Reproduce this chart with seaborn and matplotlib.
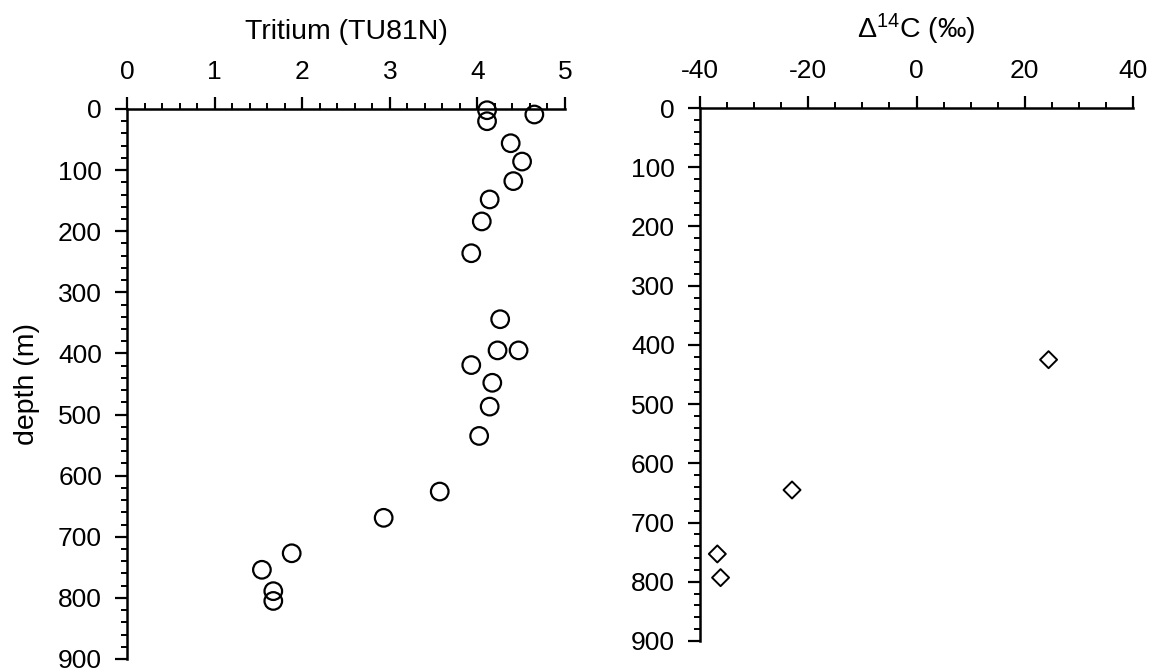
import matplotlib
matplotlib.use("Agg")
import matplotlib.pyplot as plt
import seaborn as sns
import pandas as pd
from matplotlib.ticker import MultipleLocator

# ---- data ----
tritium = [4.11, 4.11, 4.65, 4.38, 4.51, 4.41, 4.14, 4.05, 3.93, 4.26, 4.23, 4.47,
           3.93, 4.17, 4.14, 4.02, 3.57, 2.93, 1.88, 1.54, 1.67, 1.67]
tritium_depth = [2, 20, 9, 56, 86, 118, 148, 184, 236, 344, 395, 395,
                 419, 448, 487, 535, 626, 669, 727, 754, 789, 805]
c14 = [24.4, -23.0, -36.8, -36.2]
c14_depth = [425, 645, 753, 793]

tritium_ticks = [0, 1, 2, 3, 4, 5]
c14_ticks = [-40, -20, 0, 20, 40]
depth_ticks = [0, 100, 200, 300, 400, 500, 600, 700, 800, 900]

sns.set_theme(style="white")
plt.rcParams['font.family'] = ['Liberation Sans', 'DejaVu Sans']
plt.rcParams['mathtext.fontset'] = 'custom'
plt.rcParams['mathtext.rm'] = 'Liberation Sans'
plt.rcParams['mathtext.it'] = 'Liberation Sans:italic'
plt.rcParams['mathtext.default'] = 'regular'
plt.rcParams['axes.unicode_minus'] = False

FS = 19      # tick labels
LFS = 20.5   # axis labels
fig = plt.figure(figsize=(11.51, 6.72), dpi=100)
W, H = 1151, 672
def box(x0, x1, y0, y1):
    return [x0 / W, 1 - y1 / H, (x1 - x0) / W, (y1 - y0) / H]

ax1 = fig.add_axes(box(127, 565, 109, 659))
ax2 = fig.add_axes(box(700, 1133, 108, 641))

df1 = pd.DataFrame({"tritium": tritium, "depth": tritium_depth})
df2 = pd.DataFrame({"c14": c14, "depth": c14_depth})

sns.scatterplot(data=df1, x="tritium", y="depth", ax=ax1, marker="o", s=160,
                facecolor="none", edgecolor="black", linewidth=1.6, clip_on=False, zorder=3)
sns.scatterplot(data=df2, x="c14", y="depth", ax=ax2, marker="D", s=75,
                facecolor="none", edgecolor="black", linewidth=1.4, clip_on=False, zorder=3)

def style(ax, xlim, xticks, xminor, xlabel):
    ax.set_xlim(*xlim)
    ax.set_ylim(900, 0)
    ax.set_xticks(xticks)
    ax.set_yticks(depth_ticks)
    ax.xaxis.set_minor_locator(MultipleLocator(xminor))
    ax.yaxis.set_minor_locator(MultipleLocator(20))
    ax.xaxis.tick_top()
    ax.xaxis.set_label_position("top")
    for s in ["right", "bottom"]:
        ax.spines[s].set_visible(False)
    for s in ["top", "left"]:
        ax.spines[s].set_linewidth(1.8)
        ax.spines[s].set_color("black")
    ax.tick_params(which="major", direction="out", length=9, width=1.6,
                   labelsize=FS, pad=9, colors="black")
    ax.tick_params(which="minor", direction="out", length=4.5, width=1.4, colors="black")
    ax.tick_params(axis="x", which="both", top=True, bottom=False)
    ax.tick_params(axis="y", which="both", left=True, right=False)
    ax.set_xlabel(xlabel, fontsize=LFS, labelpad=15, color="black")
    ax.grid(False)
    ax.set_facecolor("white")

style(ax1, (0, 5), tritium_ticks, 0.2, "Tritium (TU81N)")
style(ax2, (-40, 40), c14_ticks, 5, "Δ$^{14}$C (‰)")
ax1.set_ylabel("depth (m)", fontsize=LFS, labelpad=13, color="black")
ax2.set_ylabel("")

fig.savefig("out.png", dpi=100, facecolor="white")
